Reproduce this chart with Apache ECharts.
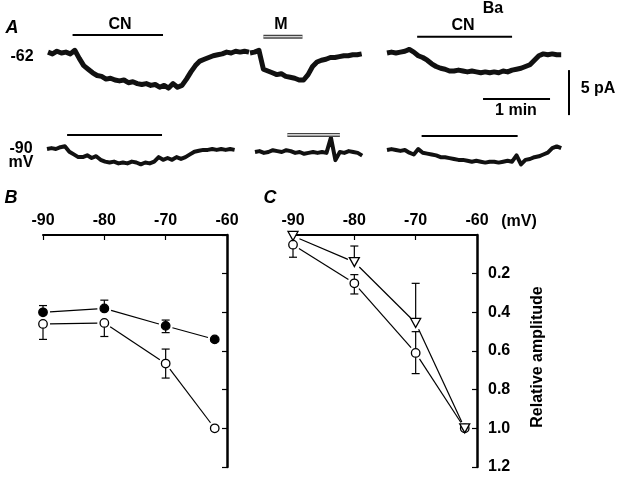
<!DOCTYPE html>
<html><head><meta charset="utf-8">
<script src="https://cdn.jsdelivr.net/npm/echarts@6/dist/echarts.min.js"></script>
<style>html,body{margin:0;padding:0;background:#fff}#c{width:620px;height:478px}</style>
</head><body><div id="c"></div>
<script>
// ---------- Panel A: current traces (pA relative to baseline), sampled every STEP seconds ----------
const STEP = 4;
const trace1 = [0.1,-0.1,0.2,0,0.1,-0.1,0.3,-0.6,-1.4,-1.8,-2.2,-2.5,-2.6,-2.9,-2.8,-3.0,-3.1,-3.0,-3.3,-3.2,-3.4,-3.5,-3.4,-3.6,-3.5,-3.8,-3.6,-3.9,-3.4,-3.8,-3.6,-2.9,-2.1,-1.4,-0.9,-0.7,-0.5,-0.3,-0.2,-0.1,0.1,0,0.2,0.1,0.2,0.1];
const trace2 = [0,0.1,0.3,-1.8,-2.0,-2.2,-2.4,-2.3,-2.6,-2.7,-2.8,-3.0,-3.0,-2.4,-1.5,-1.0,-0.8,-0.7,-0.5,-0.5,-0.4,-0.3,-0.3,-0.2,-0.2,-0.1];
const trace3 = [0,0.1,0,0.1,0.2,0.4,0.1,-0.3,-0.5,-0.8,-1.2,-1.5,-1.7,-1.8,-2.0,-2.0,-1.9,-2.0,-2.1,-2.0,-2.1,-2.2,-2.1,-2.2,-2.1,-2.2,-2.0,-2.1,-1.9,-1.8,-1.7,-1.5,-1.3,-0.8,-0.3,-0.1,-0.2,-0.1,-0.2,-0.2];
const trace4 = [0,0.1,0,0.2,0.3,-0.3,-0.6,-0.9,-0.9,-0.7,-1.0,-0.8,-1.2,-1.4,-1.5,-1.4,-1.6,-1.5,-1.6,-1.4,-1.5,-1.7,-1.5,-1.6,-1.4,-0.9,-1.2,-1.0,-1.2,-0.9,-1.1,-0.9,-0.6,-0.3,-0.2,-0.1,-0.1,0,-0.1,0,-0.1,0,-0.1];
const trace5 = [0,0.1,-0.1,0,0.2,0.1,0,0.2,0.1,-0.1,0,-0.2,-0.1,0,-0.1,0,-0.1,1.6,-0.9,0,-0.1,0.1,0,-0.1,-0.4];
const trace6 = [0,0.1,0,-0.1,0,-0.3,-0.5,0.1,-0.3,-0.4,-0.5,-0.6,-0.8,-0.8,-0.9,-1.0,-1.1,-1.1,-1.2,-1.3,-1.2,-1.3,-1.4,-1.3,-1.3,-1.4,-1.3,-1.2,-1.3,-0.6,-1.6,-1.1,-1.0,-0.8,-0.7,-0.5,-0.3,0.2,0.4,0.2];
// drug application periods [start s, end s]
const bar1 = [22, 103];   // CN
const bar2 = [12, 47];    // M
const bar3 = [27, 112];   // CN (Ba)
const bar4 = [18, 103];   // CN
const bar5 = [29, 76];    // M
const bar6 = [31, 117];   // CN (Ba)
const scaleTime = 60;     // 1 min
const scaleCurrent = 5;   // 5 pA

// ---------- Panels B and C ----------
const voltages = [-90, -80, -70, -62];
const xTicks = [-90, -80, -70, -60];
const yTicks = [0.2, 0.4, 0.6, 0.8, 1.0, 1.2];
const bFilled = [0.40, 0.38, 0.47, 0.54];
const bFilledErrUp = [0.035, 0.043, 0.03, 0];
const bFilledErrDown = [0, 0, 0.035, 0];
const bOpen = [0.46, 0.455, 0.665, 1.0];
const bOpenErrUp = [0, 0, 0.075, 0];
const bOpenErrDown = [0.08, 0.07, 0.075, 0];
const cCircle = [0.05, 0.25, 0.61, 1.0];
const cCircleErrUp = [0, 0.045, 0.11, 0];
const cCircleErrDown = [0.065, 0.055, 0.107, 0];
const cTri = [0.005, 0.14, 0.455, 1.0];
const cTriErrUp = [0, 0.083, 0.205, 0];
const cTriErrDown = [0, 0, 0, 0];

// ---------- layout ----------
const PXS = 67 / 60; // px per second
const FONT = 'Liberation Sans, Arial, Helvetica, sans-serif';
const traceGrids = [
  {left: 48,  top: 26,  dur: 180, min: -7, max: 3, h: 90},
  {left: 250, top: 26,  dur: 100, min: -7, max: 3, h: 90},
  {left: 387, top: 26,  dur: 176, min: -7, max: 3, h: 90},
  {left: 47,  top: 122, dur: 168, min: -3, max: 3, h: 54},
  {left: 255, top: 125, dur: 96,  min: -3, max: 3, h: 54},
  {left: 387, top: 123, dur: 156, min: -3, max: 3, h: 54}
];
const grids = traceGrids.map(g => ({left: g.left, top: g.top, width: g.dur * PXS, height: g.h, outerBoundsMode: 'none', containLabel: false}));
grids.push({left: 43, top: 235, width: 184, height: 232, outerBoundsMode: 'none', containLabel: false});
grids.push({left: 293, top: 235, width: 184, height: 232, outerBoundsMode: 'none', containLabel: false});

const xAxes = traceGrids.map((g, i) => ({type: 'value', gridIndex: i, min: 0, max: g.dur, show: false}));
const yAxes = traceGrids.map((g, i) => ({type: 'value', gridIndex: i, min: g.min, max: g.max, show: false}));
[6, 7].forEach(gi => {
  xAxes.push({type: 'value', gridIndex: gi, position: 'top', min: -90, max: -60, interval: 10,
    axisLine: {lineStyle: {color: '#000', width: 2}},
    axisTick: {inside: true, length: 5, lineStyle: {color: '#000', width: 1.2}},
    axisLabel: {color: '#000', fontSize: 16, fontWeight: 'bold', fontFamily: FONT, margin: 6,
      formatter: v => xTicks.includes(v) ? String(v) : ''},
    splitLine: {show: false}});
  yAxes.push({type: 'value', gridIndex: gi, position: 'right', inverse: true, min: 0, max: 1.2, interval: 0.2,
    axisLine: {lineStyle: {color: '#000', width: 2.5}},
    axisTick: {inside: true, length: 5, lineStyle: {color: '#000', width: 1.2}},
    axisLabel: {show: gi === 7, showMinLabel: false, color: '#000', fontSize: 16, fontWeight: 'bold', fontFamily: FONT, margin: 11,
      formatter: v => yTicks.some(t => Math.abs(t - v) < 1e-6) ? v.toFixed(1) : ''},
    splitLine: {show: false}});
});

const series = [];
[trace1, trace2, trace3, trace4, trace5, trace6].forEach((tr, i) => {
  series.push({type: 'line', xAxisIndex: i, yAxisIndex: i, data: tr.map((v, k) => [k * STEP, v]),
    showSymbol: false, silent: true, animation: false,
    lineStyle: {color: '#111', width: i < 3 ? 5 : 4, join: 'round'}});
});
function barSeries(idx, span, level, dbl) {
  const d = [[span[0], level], [span[1], level]];
  series.push({type: 'line', xAxisIndex: idx, yAxisIndex: idx, data: d, showSymbol: false, animation: false,
    lineStyle: {color: dbl ? '#444' : '#000', width: dbl ? 4 : 2}});
  if (dbl) series.push({type: 'line', xAxisIndex: idx, yAxisIndex: idx, data: d, showSymbol: false, animation: false,
    lineStyle: {color: '#fff', width: 1.1}});
}
barSeries(0, bar1, 2.0, false);
barSeries(1, bar2, 1.8, true);
barSeries(2, bar3, 1.8, false);
barSeries(3, bar4, 1.55, false);
barSeries(4, bar5, 1.9, true);
barSeries(5, bar6, 1.55, false);
// scale bars in trace-3 coordinate system
series.push({type: 'line', xAxisIndex: 2, yAxisIndex: 2, data: [[86, -5.1], [86 + scaleTime, -5.1]], showSymbol: false, animation: false, lineStyle: {color: '#000', width: 2}});
series.push({type: 'line', xAxisIndex: 2, yAxisIndex: 2, data: [[163, -1.9], [163, -1.9 - scaleCurrent]], showSymbol: false, animation: false, lineStyle: {color: '#000', width: 2}});

function errSeries(ai, ys, up, down) {
  series.push({type: 'custom', xAxisIndex: ai, yAxisIndex: ai, z: 1, animation: false, silent: true,
    data: voltages.map((v, i) => [v, ys[i], ys[i] - up[i], ys[i] + down[i]]),
    renderItem(params, api) {
      const x = api.value(0), m = api.value(1), lo = api.value(2), hi = api.value(3);
      const pm = api.coord([x, m]);
      const ch = [];
      const st = {stroke: '#000', lineWidth: 1.2};
      [[lo, lo < m - 1e-9], [hi, hi > m + 1e-9]].forEach(([val, ok]) => {
        if (!ok) return;
        const p = api.coord([x, val]);
        ch.push({type: 'line', shape: {x1: pm[0], y1: pm[1], x2: p[0], y2: p[1]}, style: st});
        ch.push({type: 'line', shape: {x1: p[0] - 4, y1: p[1], x2: p[0] + 4, y2: p[1]}, style: st});
      });
      return {type: 'group', children: ch};
    }});
}
// connecting lines that stop short of the symbols
function connectSeries(ai, ys) {
  const segs = [];
  for (let i = 0; i < voltages.length - 1; i++) segs.push([voltages[i], ys[i], voltages[i + 1], ys[i + 1]]);
  series.push({type: 'custom', xAxisIndex: ai, yAxisIndex: ai, z: 2, animation: false, silent: true, data: segs,
    renderItem(params, api) {
      const a = api.coord([api.value(0), api.value(1)]), b = api.coord([api.value(2), api.value(3)]);
      const dx = b[0] - a[0], dy = b[1] - a[1], L = Math.hypot(dx, dy), g = 7;
      const ux = dx / L, uy = dy / L;
      return {type: 'line', shape: {x1: a[0] + ux * g, y1: a[1] + uy * g, x2: b[0] - ux * g, y2: b[1] - uy * g},
        style: {stroke: '#000', lineWidth: 1.2}};
    }});
}
function dataSeries(ai, ys, symbol, filled, rot) {
  series.push({type: 'scatter', xAxisIndex: ai, yAxisIndex: ai, z: 3, animation: false,
    data: voltages.map((v, i) => [v, ys[i]]),
    symbol: symbol, symbolSize: symbol === 'triangle' ? [10, 9] : 8.5, symbolRotate: rot || 0,
    itemStyle: {color: filled ? '#000' : '#fff', borderColor: '#000', borderWidth: 1.3, opacity: 1}});
}
errSeries(6, bFilled, bFilledErrUp, bFilledErrDown);
errSeries(6, bOpen, bOpenErrUp, bOpenErrDown);
errSeries(7, cCircle, cCircleErrUp, cCircleErrDown);
errSeries(7, cTri, cTriErrUp, cTriErrDown);
connectSeries(6, bFilled);
connectSeries(6, bOpen);
connectSeries(7, cCircle);
connectSeries(7, cTri);
dataSeries(6, bFilled, 'circle', true);
dataSeries(6, bOpen, 'circle', false);
dataSeries(7, cCircle, 'circle', false);
dataSeries(7, cTri, 'triangle', false, 180);

function txt(t, x, y, opt) {
  return Object.assign({type: 'text', x: x, y: y, silent: true,
    style: Object.assign({text: t, fill: '#000', font: 'bold 16px ' + FONT, textAlign: 'center', textVerticalAlign: 'middle'}, (opt && opt.style) || {})},
    opt && opt.rotation ? {rotation: opt.rotation} : {});
}
const graphic = [
  txt('A', 12, 28, {style: {font: 'italic bold 18px ' + FONT}}),
  txt('B', 11, 198, {style: {font: 'italic bold 18px ' + FONT}}),
  txt('C', 270, 198, {style: {font: 'italic bold 18px ' + FONT}}),
  txt('CN', 120, 25),
  txt('M', 281, 25),
  txt('Ba', 493, 9),
  txt('CN', 463, 26),
  txt('-62', 22, 57),
  txt('-90', 21, 149),
  txt('mV', 21, 163),
  txt('5 pA', 598, 89),
  txt('1 min', 516, 111),
  txt('(mV)', 519, 222),
  txt('Relative amplitude', 538, 357, {rotation: Math.PI / 2})
];

const chart = echarts.init(document.getElementById('c'), null, {renderer: 'canvas'});
chart.setOption({animation: false, backgroundColor: '#fff', grid: grids, xAxis: xAxes, yAxis: yAxes, series: series, graphic: graphic});
</script></body></html>
